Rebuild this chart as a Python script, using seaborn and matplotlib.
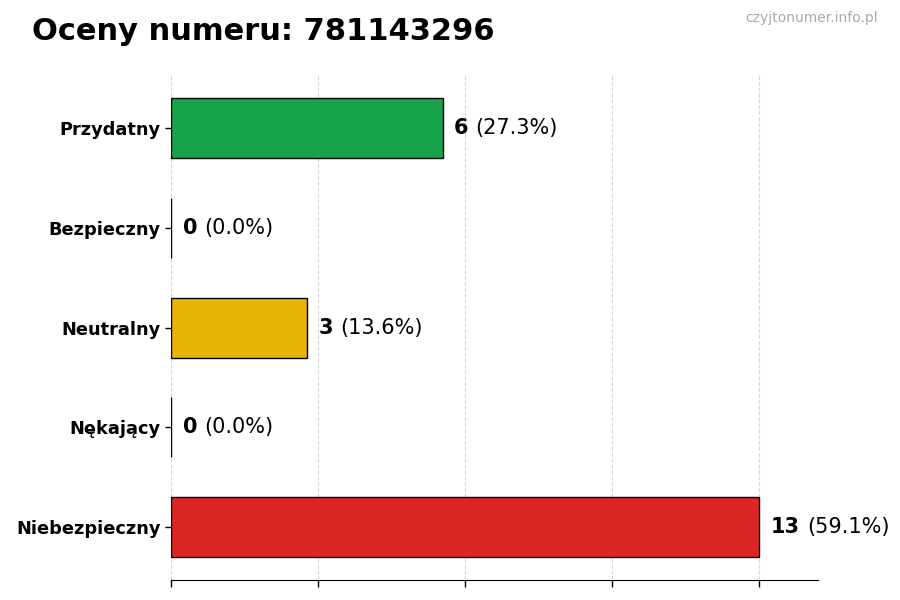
import seaborn as sns
import matplotlib.pyplot as plt
import pandas as pd

categories = ['Przydatny', 'Bezpieczny', 'Neutralny', 'Nękający', 'Niebezpieczny']
counts = [6, 0, 3, 0, 13]
colors = ['#16a34a', '#3b82f6', '#eab308', '#f97316', '#dc2626']
phone = '781143296'

total = sum(counts)
df = pd.DataFrame({'kategoria': categories, 'liczba': counts})

sns.set_style('white')
plt.rcParams['text.color'] = 'black'
plt.rcParams['xtick.color'] = 'black'
plt.rcParams['ytick.color'] = 'black'
fig, ax = plt.subplots(figsize=(9, 6), dpi=100)
fig.subplots_adjust(left=0.19, right=0.909, top=0.875, bottom=0.033)

sns.barplot(data=df, y='kategoria', x='liczba', hue='kategoria',
            palette=dict(zip(categories, colors)), legend=False, saturation=1,
            width=0.6, edgecolor='black', linewidth=1, ax=ax)

xmax = max(counts) * 1.1
ax.set_xlim(0, xmax)
ax.set_ylim(len(categories) - 0.47, -0.53)
ax.set_xticks([max(counts) * i / 4 for i in range(5)])
ax.set_xticklabels([])
ax.xaxis.grid(True, linestyle='--', color='#cccccc', alpha=0.8)
ax.set_axisbelow(True)
ax.tick_params(axis='x', length=5, width=1, color='black', bottom=True)
ax.tick_params(axis='y', length=4, width=1, color='black', left=True)
for lbl in ax.get_yticklabels():
    lbl.set_fontweight('bold')
    lbl.set_fontsize(12.8)
    lbl.set_color('black')
ax.set_xlabel('')
ax.set_ylabel('')
sns.despine(ax=ax, left=True)
ax.spines['bottom'].set_color('black')

for i, v in enumerate(counts):
    pct = v / total * 100
    t = ax.text(v + xmax * 0.018, i, str(v), fontsize=15, fontweight='bold',
                va='center', ha='left', color='black')
    ax.annotate(f'({pct:.1f}%)', xy=(1, 0.5), xycoords=t, xytext=(5, 0),
                textcoords='offset points', fontsize=15, va='center', ha='left',
                color='black')

fig.text(0.035, 0.948, f'Oceny numeru: {phone}', fontsize=22, fontweight='bold',
         ha='left', va='center', color='black')
fig.text(0.975, 0.97, 'czyjtonumer.info.pl', fontsize=10, color='#aaaaaa',
         ha='right', va='center')

fig.savefig('out.png', dpi=100)
